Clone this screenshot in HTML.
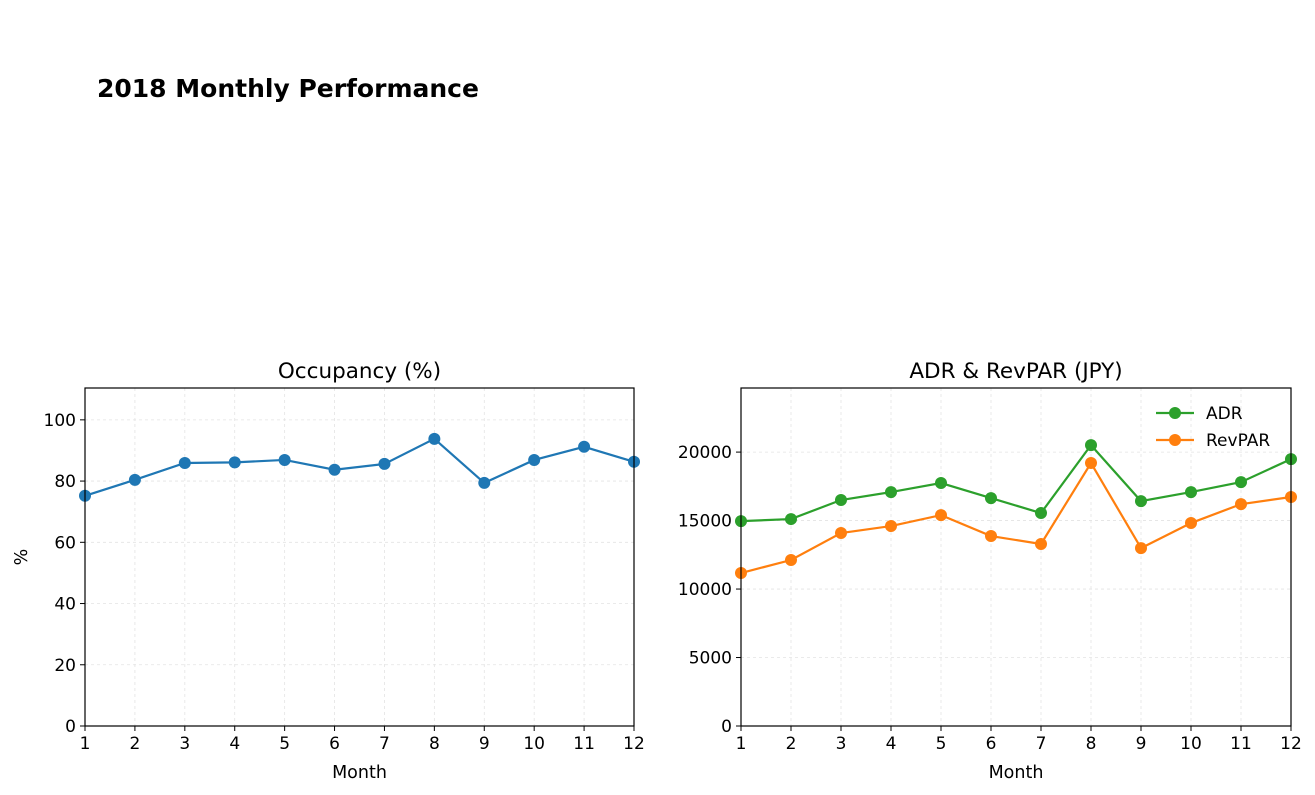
<!DOCTYPE html>
<html><head><meta charset="utf-8"><style>
body{margin:0;background:#fff;}
svg{display:block;font-family:"DejaVu Sans","Liberation Sans",sans-serif;}
</style></head><body>
<svg id="c" width="1315" height="795">
<text x="97" y="97" font-size="25" font-weight="bold">2018 Monthly Performance</text>
</svg>
<script>
const months=[1,2,3,4,5,6,7,8,9,10,11,12];
const occupancy=[75.2,80.4,85.9,86.1,86.9,83.7,85.6,93.8,79.4,86.9,91.2,86.3];
const adr=[14960,15110,16500,17080,17740,16640,15550,20510,16420,17080,17810,19490];
const revpar=[11170,12120,14090,14600,15400,13870,13290,19200,12990,14820,16200,16720];
const occTicks=[0,20,40,60,80,100];
const jpyTicks=[0,5000,10000,15000,20000];
const NS="http://www.w3.org/2000/svg";
const svg=document.getElementById('c');
function mk(tag,attrs,parent){const e=document.createElementNS(NS,tag);for(const k in attrs)e.setAttribute(k,attrs[k]);(parent||svg).appendChild(e);return e;}
function panel(o){
  const g=mk('g',{});
  
  
  const sx=v=>o.x0+(v-1)/(11)*(o.x1-o.x0);
  const sy=v=>o.yb-(v-0)/(o.ymax)*(o.yb-o.yt);
  months.forEach(m=>{
    mk('line',{x1:sx(m),x2:sx(m),y1:o.yt,y2:o.yb,stroke:'#e3e3e3','stroke-width':0.8,'stroke-dasharray':'3,3'},g);
    mk('line',{x1:sx(m),x2:sx(m),y1:o.yb,y2:o.yb+5,stroke:'#000','stroke-width':1},g);
    const t=mk('text',{x:sx(m),y:o.yb+23,'font-size':17,'text-anchor':'middle'},g);t.textContent=m;
    
    
  });
  o.ticks.forEach(v=>{
    mk('line',{x1:o.x0,x2:o.x1,y1:sy(v),y2:sy(v),stroke:'#e3e3e3','stroke-width':0.8,'stroke-dasharray':'3,3'},g);
    mk('line',{x1:o.x0-5,x2:o.x0,y1:sy(v),y2:sy(v),stroke:'#000','stroke-width':1},g);
    const t=mk('text',{x:o.x0-9,y:sy(v)+6,'font-size':17,'text-anchor':'end'},g);t.textContent=v;
    
    
  });
  const tt=mk('text',{x:(o.x0+o.x1)/2,y:o.yt-10,'font-size':21.5,'text-anchor':'middle'},g);tt.textContent=o.title;
  
  
  const xl=mk('text',{x:(o.x0+o.x1)/2,y:o.yb+52,'font-size':17.5,'text-anchor':'middle'},g);xl.textContent='Month';
  
  
  if(o.ylabel){const yl=mk('text',{x:0,y:0,'font-size':17.5,'text-anchor':'middle',transform:`translate(27,${(o.yt+o.yb)/2}) rotate(-90)`},g);yl.textContent=o.ylabel;
    
    }
  o.series.forEach(s=>{
    const pts=s.data.map((v,i)=>sx(months[i])+','+sy(v)).join(' ');
    const l=mk('polyline',{points:pts,fill:'none',stroke:s.color,'stroke-width':2.2},g);
    
    
    s.data.forEach((v,i)=>{const c=mk('circle',{cx:sx(months[i]),cy:sy(v),r:6,fill:s.color},g);
      
      });
  });
  mk('rect',{x:o.x0,y:o.yt,width:o.x1-o.x0,height:o.yb-o.yt,fill:'none',stroke:'#000','stroke-width':1.2},g);
  return {g,sx,sy};
}
panel({name:'occupancy-panel',x0:85,x1:634,yt:388,yb:726,ymax:110.4,ticks:occTicks,title:'Occupancy (%)',ylabel:'%',series:[{key:'occupancy',data:occupancy,color:'#1f77b4'}]});
panel({name:'adr-revpar-panel',x0:741,x1:1291,yt:388,yb:726,ymax:24680,ticks:jpyTicks,title:'ADR & RevPAR (JPY)',series:[{key:'adr',data:adr,color:'#2ca02c'},{key:'revpar',data:revpar,color:'#ff7f0e'}]});
[['ADR','#2ca02c',413],['RevPAR','#ff7f0e',440]].forEach(([n,c,y])=>{
  const lg=mk('g',{});
  
  
  mk('line',{x1:1156,x2:1194,y1:y,y2:y,stroke:c,'stroke-width':2.2},lg);
  mk('circle',{cx:1175,cy:y,r:6,fill:c},lg);
  const t=mk('text',{x:1206,y:y+6,'font-size':17},lg);t.textContent=n;
});
</script>
</body></html>
